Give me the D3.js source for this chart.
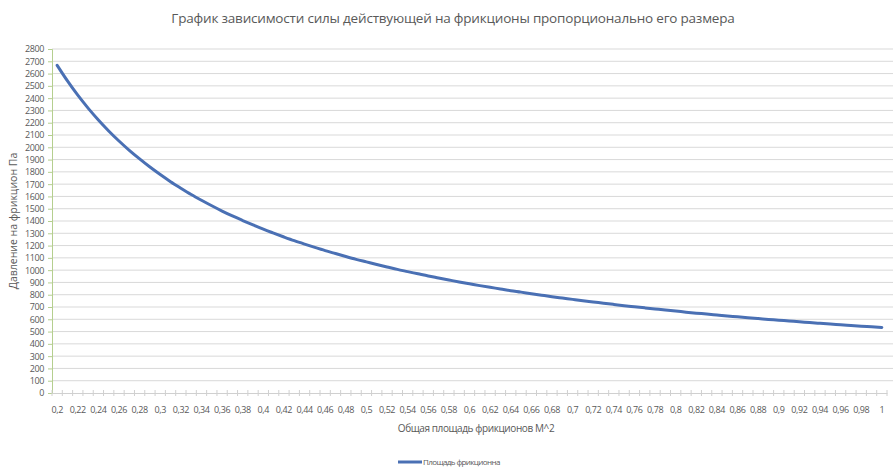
<!DOCTYPE html>
<html><head><meta charset="utf-8">
<script src="https://cdn.jsdelivr.net/npm/d3@7"></script>
<style>body{margin:0;background:#fff;font-family:Calibri,"Open Sans","Liberation Sans",sans-serif;}</style>
</head><body><svg id="c" width="893" height="468"></svg>
<script>
const categories = ["0,2","0,21","0,22","0,23","0,24","0,25","0,26","0,27","0,28","0,29","0,3","0,31","0,32","0,33","0,34","0,35","0,36","0,37","0,38","0,39","0,4","0,41","0,42","0,43","0,44","0,45","0,46","0,47","0,48","0,49","0,5","0,51","0,52","0,53","0,54","0,55","0,56","0,57","0,58","0,59","0,6","0,61","0,62","0,63","0,64","0,65","0,66","0,67","0,68","0,69","0,7","0,71","0,72","0,73","0,74","0,75","0,76","0,77","0,78","0,79","0,8","0,81","0,82","0,83","0,84","0,85","0,86","0,87","0,88","0,89","0,9","0,91","0,92","0,93","0,94","0,95","0,96","0,97","0,98","0,99","1"];
const pressure = [2667,2540,2424,2319,2222,2133,2051,1975,1905,1839,1778,1720,1667,1616,1569,1524,1481,1441,1404,1368,1333,1301,1270,1240,1212,1185,1159,1135,1111,1088,1067,1046,1026,1006,988,970,952,936,920,904,889,874,860,847,833,821,808,796,784,773,762,751,741,731,721,711,702,693,684,675,667,658,650,643,635,627,620,613,606,599,593,586,580,573,567,561,556,550,544,539,533];
const yTicks = d3.range(0, 2801, 100);
const seriesName = "Площадь фрикционна";
const title = "График зависимости силы действующей на фрикционы пропорционально его размера";
const xTitle = "Общая площадь фрикционов М^2";
const yTitle = "Давление на фрикцион Па";

const svg = d3.select("#c");
const L = 52, R = 887, T = 49, B = 393;
const x = d3.scaleBand().domain(categories).range([L, R]);
const y = d3.scaleLinear().domain([0, 2800]).range([B, T]);
const txt = "#595959";

// gridlines
svg.append("g").selectAll("line").data(yTicks.filter(d => d > 0)).join("line")
  .attr("x1", L).attr("x2", 893).attr("y1", d => y(d)).attr("y2", d => y(d))
  .attr("stroke", "#d9d9d9").attr("stroke-width", 1);

// y axis
const ya = svg.append("g").attr("transform", `translate(${L},0)`)
  .call(d3.axisLeft(y).tickValues(yTicks).tickSize(4).tickFormat(d3.format("d")));
ya.select(".domain").attr("stroke", "#b5cf8f");
ya.selectAll(".tick line").attr("stroke", "#b5cf8f");
ya.selectAll("text").attr("fill", txt).attr("font-size", 9).attr("x", -8)
  .attr("font-family", "'Open Sans',sans-serif").style("letter-spacing", "-0.4px");

// x axis
const xa = svg.append("g").attr("transform", `translate(0,${B})`)
  .call(d3.axisBottom(x).tickSize(0).tickFormat((d, i) => i % 2 === 0 ? d : ""));
xa.select(".domain").attr("stroke", "#d0d0d0");
xa.selectAll("text").attr("fill", txt).attr("font-size", 9).attr("dy", "1.9em")
  .attr("font-family", "'Open Sans',sans-serif").style("letter-spacing", "-0.4px");
// category boundary tick marks (cross)
const bounds = categories.map(c => x(c)).concat([R]);
svg.append("g").selectAll("line").data(bounds).join("line")
  .attr("x1", d => d).attr("x2", d => d).attr("y1", B - 3).attr("y2", B + 3)
  .attr("stroke", "#d0d0d0");

// line
const line = d3.line().x((d, i) => x(categories[i]) + x.bandwidth() / 2).y(d => y(d)).curve(d3.curveMonotoneX);
svg.append("path").datum(pressure).attr("d", line)
  .attr("fill", "none").attr("stroke", "#4a70b4").attr("stroke-width", 3).attr("stroke-linecap", "round");

// titles
svg.append("text").attr("x", 453).attr("y", 23).attr("text-anchor", "middle")
  .attr("font-size", 13.5).attr("fill", txt).attr("font-family", "'Open Sans',sans-serif").style("letter-spacing", "-0.2px").text(title);
svg.append("text").attr("x", 476).attr("y", 432).attr("text-anchor", "middle")
  .attr("font-size", 10).attr("fill", txt).attr("font-family", "'Open Sans',sans-serif").style("letter-spacing", "-0.4px").text(xTitle);
svg.append("text").attr("transform", "translate(17,221) rotate(-90)").attr("text-anchor", "middle")
  .attr("font-size", 10.5).attr("fill", txt).attr("font-family", "'Open Sans',sans-serif").text(yTitle);

// legend
svg.append("line").attr("x1", 398).attr("x2", 422).attr("y1", 462).attr("y2", 462)
  .attr("stroke", "#4a70b4").attr("stroke-width", 3);
svg.append("text").attr("x", 423).attr("y", 465).attr("font-size", 8).attr("fill", txt)
  .attr("font-family", "'Open Sans',sans-serif").style("letter-spacing", "-0.6px").text(seriesName);
</script></body></html>
